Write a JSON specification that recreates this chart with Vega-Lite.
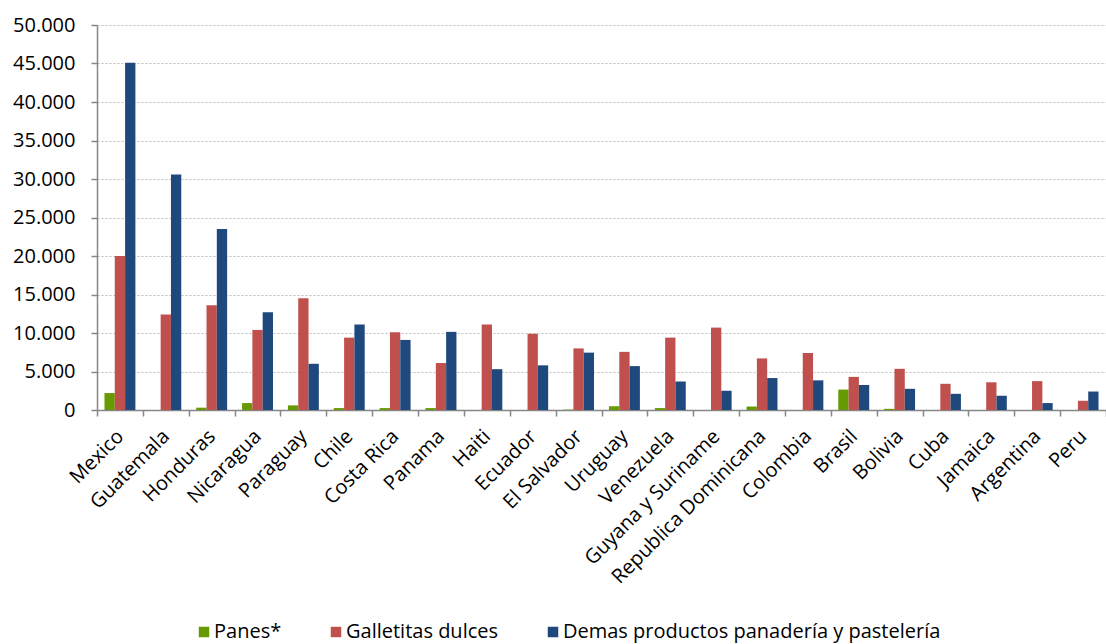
{
  "$schema": "https://vega.github.io/schema/vega-lite/v6.json",
  "autosize": {"type": "none"},
  "width": 1009,
  "height": 385,
  "padding": {"left": 97, "top": 25, "right": 0, "bottom": 234},
  "background": "white",
  "config": {
    "font": "Open Sans",
    "view": {"stroke": null},
    "axis": {"labelFont": "Open Sans", "labelColor": "#000000"},
    "legend": {"labelFont": "Open Sans"}
  },
  "data": {
    "values": [
      {"pais": "Mexico", "producto": "Panes*", "valor": 2200},
      {"pais": "Mexico", "producto": "Galletitas dulces", "valor": 20000},
      {"pais": "Mexico", "producto": "Demas productos panadería y pastelería", "valor": 45100},
      {"pais": "Guatemala", "producto": "Panes*", "valor": 0},
      {"pais": "Guatemala", "producto": "Galletitas dulces", "valor": 12400},
      {"pais": "Guatemala", "producto": "Demas productos panadería y pastelería", "valor": 30600},
      {"pais": "Honduras", "producto": "Panes*", "valor": 300},
      {"pais": "Honduras", "producto": "Galletitas dulces", "valor": 13600},
      {"pais": "Honduras", "producto": "Demas productos panadería y pastelería", "valor": 23500},
      {"pais": "Nicaragua", "producto": "Panes*", "valor": 900},
      {"pais": "Nicaragua", "producto": "Galletitas dulces", "valor": 10400},
      {"pais": "Nicaragua", "producto": "Demas productos panadería y pastelería", "valor": 12700},
      {"pais": "Paraguay", "producto": "Panes*", "valor": 600},
      {"pais": "Paraguay", "producto": "Galletitas dulces", "valor": 14500},
      {"pais": "Paraguay", "producto": "Demas productos panadería y pastelería", "valor": 6000},
      {"pais": "Chile", "producto": "Panes*", "valor": 250},
      {"pais": "Chile", "producto": "Galletitas dulces", "valor": 9400},
      {"pais": "Chile", "producto": "Demas productos panadería y pastelería", "valor": 11100},
      {"pais": "Costa Rica", "producto": "Panes*", "valor": 250},
      {"pais": "Costa Rica", "producto": "Galletitas dulces", "valor": 10100},
      {"pais": "Costa Rica", "producto": "Demas productos panadería y pastelería", "valor": 9100},
      {"pais": "Panama", "producto": "Panes*", "valor": 250},
      {"pais": "Panama", "producto": "Galletitas dulces", "valor": 6100},
      {"pais": "Panama", "producto": "Demas productos panadería y pastelería", "valor": 10150},
      {"pais": "Haiti", "producto": "Panes*", "valor": 0},
      {"pais": "Haiti", "producto": "Galletitas dulces", "valor": 11100},
      {"pais": "Haiti", "producto": "Demas productos panadería y pastelería", "valor": 5300},
      {"pais": "Ecuador", "producto": "Panes*", "valor": 0},
      {"pais": "Ecuador", "producto": "Galletitas dulces", "valor": 9900},
      {"pais": "Ecuador", "producto": "Demas productos panadería y pastelería", "valor": 5800},
      {"pais": "El Salvador", "producto": "Panes*", "valor": 50},
      {"pais": "El Salvador", "producto": "Galletitas dulces", "valor": 8000},
      {"pais": "El Salvador", "producto": "Demas productos panadería y pastelería", "valor": 7450},
      {"pais": "Uruguay", "producto": "Panes*", "valor": 500},
      {"pais": "Uruguay", "producto": "Galletitas dulces", "valor": 7550},
      {"pais": "Uruguay", "producto": "Demas productos panadería y pastelería", "valor": 5700},
      {"pais": "Venezuela", "producto": "Panes*", "valor": 250},
      {"pais": "Venezuela", "producto": "Galletitas dulces", "valor": 9400},
      {"pais": "Venezuela", "producto": "Demas productos panadería y pastelería", "valor": 3700},
      {"pais": "Guyana y Suriname", "producto": "Panes*", "valor": 0},
      {"pais": "Guyana y Suriname", "producto": "Galletitas dulces", "valor": 10700},
      {"pais": "Guyana y Suriname", "producto": "Demas productos panadería y pastelería", "valor": 2500},
      {"pais": "Republica Dominicana", "producto": "Panes*", "valor": 450},
      {"pais": "Republica Dominicana", "producto": "Galletitas dulces", "valor": 6700},
      {"pais": "Republica Dominicana", "producto": "Demas productos panadería y pastelería", "valor": 4150},
      {"pais": "Colombia", "producto": "Panes*", "valor": 0},
      {"pais": "Colombia", "producto": "Galletitas dulces", "valor": 7400},
      {"pais": "Colombia", "producto": "Demas productos panadería y pastelería", "valor": 3850},
      {"pais": "Brasil", "producto": "Panes*", "valor": 2650},
      {"pais": "Brasil", "producto": "Galletitas dulces", "valor": 4300},
      {"pais": "Brasil", "producto": "Demas productos panadería y pastelería", "valor": 3250},
      {"pais": "Bolivia", "producto": "Panes*", "valor": 150},
      {"pais": "Bolivia", "producto": "Galletitas dulces", "valor": 5350},
      {"pais": "Bolivia", "producto": "Demas productos panadería y pastelería", "valor": 2750},
      {"pais": "Cuba", "producto": "Panes*", "valor": 0},
      {"pais": "Cuba", "producto": "Galletitas dulces", "valor": 3400},
      {"pais": "Cuba", "producto": "Demas productos panadería y pastelería", "valor": 2100},
      {"pais": "Jamaica", "producto": "Panes*", "valor": 0},
      {"pais": "Jamaica", "producto": "Galletitas dulces", "valor": 3600},
      {"pais": "Jamaica", "producto": "Demas productos panadería y pastelería", "valor": 1850},
      {"pais": "Argentina", "producto": "Panes*", "valor": 0},
      {"pais": "Argentina", "producto": "Galletitas dulces", "valor": 3750},
      {"pais": "Argentina", "producto": "Demas productos panadería y pastelería", "valor": 900},
      {"pais": "Peru", "producto": "Panes*", "valor": 0},
      {"pais": "Peru", "producto": "Galletitas dulces", "valor": 1200},
      {"pais": "Peru", "producto": "Demas productos panadería y pastelería", "valor": 2400}
    ]
  },
  "mark": {"type": "bar"},
  "encoding": {
    "x": {
      "field": "pais",
      "type": "nominal",
      "sort": null,
      "title": null,
      "scale": {"paddingInner": 0, "paddingOuter": 0},
      "axis": {
        "labelAngle": -45,
        "labelAlign": "right",
        "labelBaseline": "middle",
        "labelFontSize": 20,
        "labelPadding": 17,
        "labelLimit": 400,
        "tickBand": "extent",
        "ticks": true,
        "tickSize": 6,
        "tickColor": "#868686",
        "domainColor": "#868686",
        "domainWidth": 1.5,
        "tickWidth": 1.5,
        "grid": false,
        "labelOverlap": false
      }
    },
    "xOffset": {
      "field": "producto",
      "type": "nominal",
      "sort": ["Panes*", "Galletitas dulces", "Demas productos panadería y pastelería"],
      "scale": {"paddingInner": 0, "paddingOuter": 0.725}
    },
    "y": {
      "field": "valor",
      "type": "quantitative",
      "title": null,
      "scale": {"domain": [0, 50000], "nice": false},
      "axis": {
        "values": [0, 5000, 10000, 15000, 20000, 25000, 30000, 35000, 40000, 45000, 50000],
        "labelExpr": "replace(format(datum.value, ','), ',', '.')",
        "labelFontSize": 20,
        "labelPadding": 16,
        "tickSize": 6,
        "tickColor": "#868686",
        "tickWidth": 1.5,
        "domainColor": "#868686",
        "domainWidth": 1.5,
        "grid": true,
        "gridColor": "#bdbdbd",
        "gridDash": [2, 2],
        "gridWidth": 1
      }
    },
    "color": {
      "field": "producto",
      "type": "nominal",
      "title": null,
      "scale": {
        "domain": ["Panes*", "Galletitas dulces", "Demas productos panadería y pastelería"],
        "range": ["#669a00", "#c0504d", "#1f497d"]
      },
      "legend": {
        "orient": "none",
        "direction": "horizontal",
        "legendX": 97,
        "legendY": 597,
        "symbolType": "square",
        "symbolSize": 110,
        "symbolStrokeWidth": 0,
        "labelFontSize": 20,
        "labelColor": "#000000",
        "labelOffset": 0,
        "columnPadding": 44,
        "labelLimit": 600
      }
    }
  }
}
